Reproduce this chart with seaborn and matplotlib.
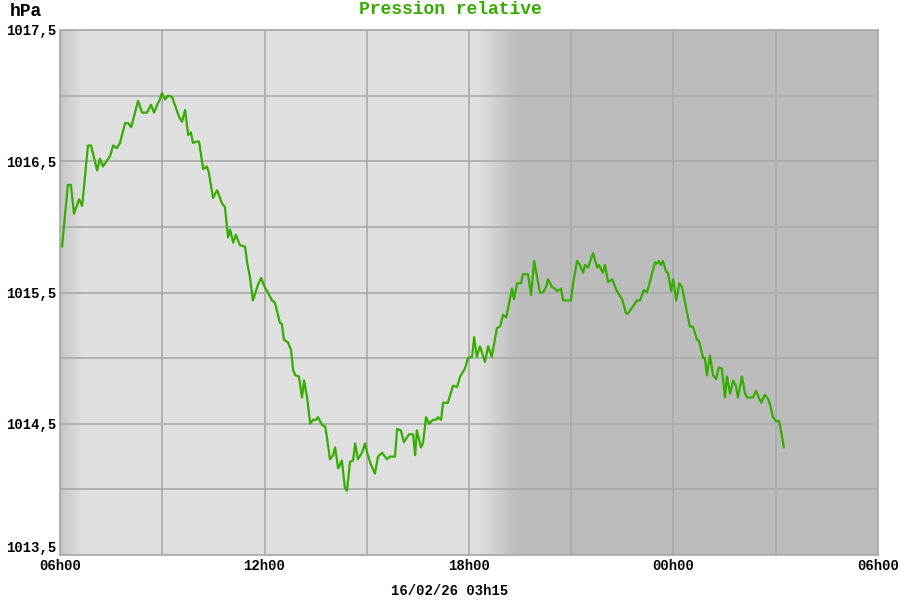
import numpy as np
import pandas as pd
import matplotlib
matplotlib.use("Agg")
import matplotlib.pyplot as plt
import seaborn as sns

# hours since 06h00 and relative pressure (hPa)
hours = [0.06, 0.23, 0.32, 0.41, 0.56, 0.65, 0.82, 0.91, 1.09, 1.17, 1.26, 1.47, 1.56, 1.67, 1.76, 1.91,
         2.00, 2.09, 2.29, 2.41, 2.55, 2.67, 2.76, 2.85, 2.93, 2.99, 3.08, 3.17, 3.29, 3.37, 3.49, 3.58,
         3.67, 3.76, 3.84, 3.90, 4.02, 4.08, 4.20, 4.31, 4.37, 4.49, 4.61, 4.64, 4.75, 4.84, 4.93, 4.99,
         5.08, 5.16, 5.28, 5.43, 5.49, 5.57, 5.66, 5.81, 5.90, 6.01, 6.10, 6.22, 6.31, 6.45, 6.51, 6.57,
         6.69, 6.78, 6.84, 6.90, 7.01, 7.10, 7.16, 7.25, 7.34, 7.42, 7.51, 7.57, 7.69, 7.78, 7.83, 7.92,
         8.01, 8.07, 8.16, 8.27, 8.36, 8.42, 8.51, 8.60, 8.66, 8.74, 8.86, 8.95, 9.01, 9.12, 9.24, 9.33,
         9.45, 9.59, 9.68, 9.83, 9.89, 10.00, 10.09, 10.24, 10.36, 10.42, 10.47, 10.59, 10.65, 10.74,
         10.83, 10.94, 11.03, 11.09, 11.18, 11.24, 11.38, 11.53, 11.65, 11.74, 11.88, 11.97, 12.09,
         12.15, 12.23, 12.32, 12.47, 12.56, 12.67, 12.82, 12.91, 13.00, 13.09, 13.14, 13.26, 13.32,
         13.41, 13.53, 13.58, 13.73, 13.82, 13.91, 14.08, 14.17, 14.26, 14.32, 14.44, 14.52, 14.58,
         14.70, 14.76, 14.99, 15.05, 15.17, 15.23, 15.35, 15.40, 15.49, 15.64, 15.76, 15.81, 15.93,
         15.99, 16.08, 16.20, 16.34, 16.49, 16.61, 16.67, 16.93, 17.02, 17.13, 17.22, 17.46, 17.52,
         17.57, 17.63, 17.69, 17.78, 17.84, 17.93, 17.99, 18.08, 18.17, 18.25, 18.48, 18.57, 18.69,
         18.75, 18.87, 18.92, 18.98, 19.07, 19.16, 19.25, 19.33, 19.42, 19.51, 19.57, 19.66, 19.75,
         19.83, 19.89, 20.01, 20.10, 20.16, 20.33, 20.42, 20.57, 20.68, 20.77, 20.83, 20.92, 21.01,
         21.10, 21.24]
pressure = [1015.85, 1016.32, 1016.32, 1016.10, 1016.21, 1016.16, 1016.62, 1016.62, 1016.43, 1016.52,
            1016.46, 1016.54, 1016.62, 1016.60, 1016.64, 1016.79, 1016.79, 1016.76, 1016.96, 1016.87,
            1016.87, 1016.93, 1016.87, 1016.93, 1016.97, 1017.02, 1016.97, 1017.00, 1016.99, 1016.93,
            1016.84, 1016.80, 1016.89, 1016.70, 1016.72, 1016.64, 1016.65, 1016.65, 1016.44, 1016.46,
            1016.41, 1016.22, 1016.28, 1016.26, 1016.18, 1016.15, 1015.92, 1015.98, 1015.88, 1015.94,
            1015.86, 1015.85, 1015.73, 1015.62, 1015.44, 1015.56, 1015.61, 1015.54, 1015.50, 1015.44,
            1015.42, 1015.27, 1015.26, 1015.14, 1015.12, 1015.06, 1014.91, 1014.87, 1014.86, 1014.70,
            1014.83, 1014.70, 1014.50, 1014.53, 1014.53, 1014.55, 1014.49, 1014.48, 1014.40, 1014.23,
            1014.26, 1014.32, 1014.16, 1014.22, 1014.01, 1013.99, 1014.21, 1014.22, 1014.35, 1014.23,
            1014.28, 1014.35, 1014.28, 1014.19, 1014.12, 1014.25, 1014.28, 1014.23, 1014.25, 1014.25,
            1014.46, 1014.45, 1014.36, 1014.42, 1014.42, 1014.26, 1014.45, 1014.32, 1014.35, 1014.55,
            1014.50, 1014.53, 1014.53, 1014.55, 1014.53, 1014.66, 1014.66, 1014.79, 1014.78, 1014.86,
            1014.92, 1015.00, 1015.01, 1015.16, 1015.01, 1015.09, 1014.97, 1015.09, 1015.01, 1015.23,
            1015.24, 1015.33, 1015.31, 1015.37, 1015.53, 1015.45, 1015.57, 1015.57, 1015.64, 1015.64,
            1015.48, 1015.74, 1015.50, 1015.50, 1015.54, 1015.60, 1015.54, 1015.53, 1015.51, 1015.53,
            1015.44, 1015.44, 1015.56, 1015.74, 1015.72, 1015.65, 1015.71, 1015.69, 1015.80, 1015.69,
            1015.71, 1015.65, 1015.71, 1015.58, 1015.60, 1015.51, 1015.45, 1015.34, 1015.34, 1015.44,
            1015.44, 1015.52, 1015.50, 1015.73, 1015.72, 1015.74, 1015.71, 1015.74, 1015.66, 1015.65,
            1015.51, 1015.60, 1015.44, 1015.57, 1015.54, 1015.24, 1015.24, 1015.14, 1015.13, 1015.00,
            1015.00, 1014.87, 1015.02, 1014.87, 1014.84, 1014.93, 1014.92, 1014.70, 1014.86, 1014.73,
            1014.83, 1014.79, 1014.70, 1014.86, 1014.73, 1014.70, 1014.70, 1014.75, 1014.66, 1014.72,
            1014.69, 1014.65, 1014.55, 1014.52, 1014.52, 1014.32]

x_ticks = [0, 6, 12, 18, 24]
x_labels = ["06h00", "12h00", "18h00", "00h00", "06h00"]
y_ticks = [1013.5, 1014.5, 1015.5, 1016.5, 1017.5]
y_labels = ["1013,5", "1014,5", "1015,5", "1016,5", "1017,5"]
title = "Pression relative"
unit = "hPa"
stamp = "16/02/26 03h15"

df = pd.DataFrame({"t": hours, "p": pressure})

sns.set_theme(style="white")
plt.rcParams["font.family"] = ["Liberation Mono", "DejaVu Sans Mono"]
plt.rcParams["font.weight"] = "bold"

green = "#35ad00"
day = 0.875
night = 0.737
edge = 0.775

fig = plt.figure(figsize=(9, 6), dpi=100)
ax = fig.add_axes([60 / 900, 45 / 600, 818 / 900, 525 / 600])

# background: day / night shading with twilight gradients
tt = np.linspace(0, 24, 1200)
shade = np.where(tt < 12.3, day, night)
m0 = tt < 0.65
shade = np.where(m0, edge + (day - edge) * np.clip(tt / 0.65, 0, 1), shade)
m = (tt >= 12.3) & (tt < 13.4)
shade[m] = day + (night - day) * (tt[m] - 12.3) / 1.1
img = np.repeat(shade[None, :, None], 3, axis=2)
ax.imshow(img, extent=[0, 24, 1013.5, 1017.5], aspect="auto", zorder=0, interpolation="bilinear")

sns.lineplot(data=df, x="t", y="p", ax=ax, color=green, linewidth=1.6, zorder=3)

ax.set_xlim(0, 24)
ax.set_ylim(1013.5, 1017.5)
ax.set_xticks(x_ticks)
ax.set_xticklabels(x_labels)
ax.set_xticks([3, 9, 15, 21], minor=True)
ax.set_yticks(y_ticks)
ax.set_yticklabels(y_labels)
ax.set_yticks([1014.0, 1015.0, 1016.0, 1017.0], minor=True)
ax.grid(True, which="both", color="#a9a9a9", linewidth=1.2, zorder=1)
ax.set_axisbelow(False)
for line in ax.get_xgridlines() + ax.get_ygridlines():
    line.set_zorder(1)
ax.tick_params(which="both", length=0)
ax.tick_params(axis="both", labelsize=10, colors="black", pad=3)
for lab in ax.get_xticklabels() + ax.get_yticklabels():
    lab.set_fontweight("bold")
ax.get_yticklabels()[0].set_va("bottom")
ax.set_xlabel("")
ax.set_ylabel("")
for s in ax.spines.values():
    s.set_color("#a9a9a9")
    s.set_linewidth(1.2)

fig.text(0.5, 1 - 10 / 600, title, ha="center", va="center", color=green,
         fontsize=13, fontweight="bold")
fig.text(10 / 900, 1 - 12 / 600, unit, ha="left", va="center", color="black",
         fontsize=13, fontweight="bold")
fig.text(450 / 900, 1 - 591 / 600, stamp, ha="center", va="center", color="black",
         fontsize=10, fontweight="bold")

fig.savefig("out.png", dpi=100)
